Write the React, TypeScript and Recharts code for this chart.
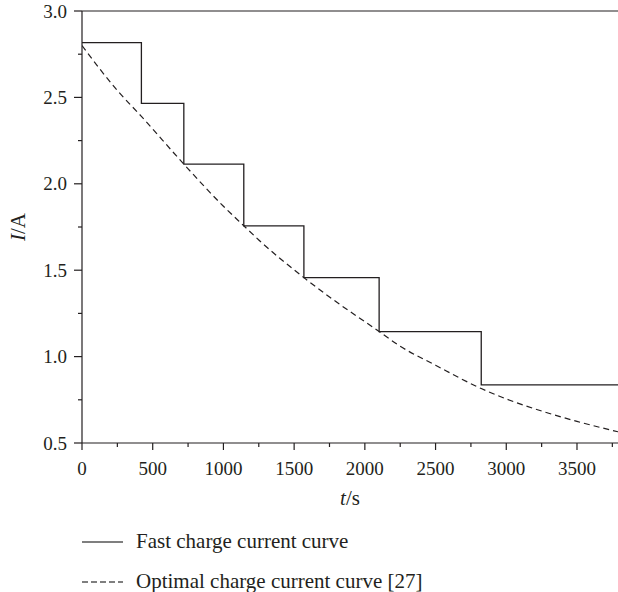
import React from "react";
import { Label, Legend, Line, LineChart, ReferenceLine, XAxis, YAxis } from "recharts";

// fast charge: stepped current, each level holds until the next step time
const stepTimes = [0, 420, 720, 1144, 1569, 2101, 2823, 3790];
const stepCurrents = [2.817, 2.465, 2.114, 1.757, 1.457, 1.145, 0.836, 0.836];

// optimal charge current curve [27]
const optimalTimes = [0, 250, 420, 720, 1000, 1144, 1250, 1569, 1750, 2101, 2250, 2500, 2823, 3000, 3250, 3500, 3790];
const optimalCurrents = [2.8, 2.54, 2.39, 2.114, 1.87, 1.757, 1.675, 1.457, 1.345, 1.145, 1.06, 0.95, 0.815, 0.755, 0.685, 0.625, 0.565];

const xMajorTicks = [0, 500, 1000, 1500, 2000, 2500, 3000, 3500];
const xMinorTicks = [250, 750, 1250, 1750, 2250, 2750, 3250, 3750];
const yMajorTicks = [0.5, 1.0, 1.5, 2.0, 2.5, 3.0];
const yMinorTicks = [0.75, 1.25, 1.75, 2.25, 2.75];

const seriesNames = ["Fast charge current curve", "Optimal charge current curve [27]"];

const fastData = stepTimes.map((t, i) => ({ t, current: stepCurrents[i] }));
const optimalData = optimalTimes.map((t, i) => ({ t, current: optimalCurrents[i] }));

const INK = "#231f20";
const FONT = "'Liberation Serif', 'Times New Roman', serif";

function XTick(props: any) {
  const { x, y, payload } = props;
  const major = xMajorTicks.includes(payload.value);
  return (
    <g>
      <line x1={x} x2={x} y1={y} y2={y + (major ? 7 : 4)} stroke={INK} strokeWidth={1.2} />
      {major && (
        <text x={x} y={y + 32} textAnchor="middle" fontSize={19} fontFamily={FONT} fill={INK}>
          {payload.value}
        </text>
      )}
    </g>
  );
}

function YTick(props: any) {
  const { x, y, payload } = props;
  const major = yMajorTicks.includes(payload.value);
  return (
    <g>
      <line x1={x - (major ? 8 : 4)} x2={x} y1={y} y2={y} stroke={INK} strokeWidth={1.2} />
      {major && (
        <text x={x - 15} y={y + 6.5} textAnchor="end" fontSize={19} fontFamily={FONT} fill={INK}>
          {payload.value.toFixed(1)}
        </text>
      )}
    </g>
  );
}

function LegendBlock() {
  const dashes = ["none", "6 3"];
  return (
    <div style={{ paddingTop: 2, fontFamily: FONT, fontSize: 21, color: INK }}>
      {seriesNames.map((name, i) => (
        <div key={name} style={{ height: 40, display: "flex", alignItems: "center", paddingLeft: 82 }}>
          <svg width={41} height={6} style={{ marginRight: 13 }}>
            <line x1={0} x2={41} y1={3} y2={3} stroke="#555" strokeWidth={1.3} strokeDasharray={dashes[i]} />
          </svg>
          <span style={{ position: "relative", top: -1 }}>{name}</span>
        </div>
      ))}
    </div>
  );
}

export default function App() {
  return (
    <div style={{ position: "absolute", left: 0, top: 0, background: "#fff" }}>
      <LineChart width={618} height={592} margin={{ top: 11, right: 0, bottom: 0, left: 10 }}>
        <XAxis
          dataKey="t"
          type="number"
          domain={[0, 3790]}
          allowDataOverflow
          ticks={[...xMajorTicks, ...xMinorTicks].sort((a, b) => a - b)}
          interval={0}
          tick={<XTick />}
          tickLine={false}
          tickSize={0}
          tickMargin={0}
          height={77}
          axisLine={{ stroke: INK, strokeWidth: 1.2 }}
        >
          <Label
            content={(p: any) => (
              <text
                x={p.viewBox.x + p.viewBox.width / 2}
                y={p.viewBox.y + 62}
                textAnchor="middle"
                fontSize={21}
                fontFamily={FONT}
                fill={INK}
              >
                <tspan fontStyle="italic">t</tspan>/s
              </text>
            )}
          />
        </XAxis>
        <YAxis
          type="number"
          domain={[0.5, 3]}
          allowDataOverflow
          ticks={[...yMajorTicks, ...yMinorTicks].sort((a, b) => a - b)}
          interval={0}
          tick={<YTick />}
          tickLine={false}
          tickSize={0}
          tickMargin={0}
          width={72}
          axisLine={{ stroke: INK, strokeWidth: 1.2 }}
        >
          <Label
            content={(p: any) => {
              const cx = p.viewBox.x + 14.5;
              const cy = p.viewBox.y + p.viewBox.height / 2;
              return (
                <text
                  x={cx}
                  y={cy}
                  transform={`rotate(-90 ${cx} ${cy})`}
                  textAnchor="middle"
                  fontSize={21}
                  fontFamily={FONT}
                  fill={INK}
                >
                  <tspan fontStyle="italic">I</tspan>/A
                </text>
              );
            }}
          />
        </YAxis>
        <ReferenceLine y={3} stroke={INK} strokeWidth={1.2} />
        <Legend verticalAlign="bottom" align="left" height={72} wrapperStyle={{ left: 0, width: 618 }} content={() => <LegendBlock />} />
        <Line
          data={fastData}
          dataKey="current"
          name={seriesNames[0]}
          type="stepAfter"
          stroke={INK}
          strokeWidth={1.3}
          dot={false}
          activeDot={false}
          isAnimationActive={false}
        />
        <Line
          data={optimalData}
          dataKey="current"
          name={seriesNames[1]}
          type="monotone"
          stroke={INK}
          strokeWidth={1.2}
          strokeDasharray="6 4"
          dot={false}
          activeDot={false}
          isAnimationActive={false}
        />
      </LineChart>
    </div>
  );
}
